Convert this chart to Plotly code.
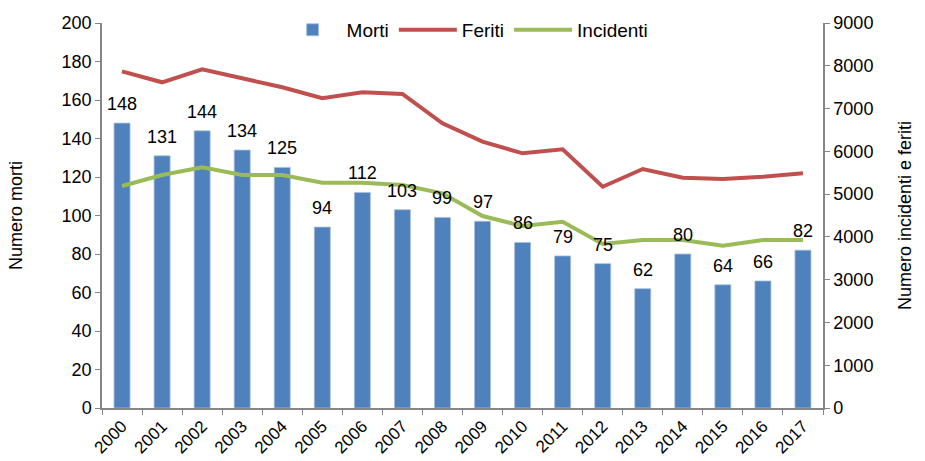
import plotly.graph_objects as go

anni = [str(y) for y in range(2000, 2018)]
morti = [148, 131, 144, 134, 125, 94, 112, 103, 99, 97, 86, 79, 75, 62, 80, 64, 66, 82]
feriti = [7870, 7614, 7918, 7707, 7497, 7240, 7380, 7340, 6655, 6226, 5953, 6047, 5173, 5587, 5384, 5353, 5407, 5486]
incidenti = [5190, 5447, 5626, 5447, 5447, 5267, 5267, 5213, 5018, 4488, 4255, 4355, 3834, 3927, 3927, 3795, 3927, 3927]

font = "Liberation Sans, Arial, sans-serif"
fig = go.Figure()
fig.add_trace(go.Bar(x=anni, y=morti, name="Morti", marker_color="#4F81BD",
                     marker_line=dict(color="#A8C0E0", width=0.8)))
fig.add_trace(go.Scatter(x=anni, y=feriti, name="Feriti", yaxis="y2", mode="lines",
                         line=dict(color="#C0504D", width=4)))
fig.add_trace(go.Scatter(x=anni, y=incidenti, name="Incidenti", yaxis="y2", mode="lines",
                         line=dict(color="#9BBB59", width=4)))

# category axis positions: annotation x given as category index
annotations = [dict(x=i, y=v, xref="x", yref="y", text=str(v), showarrow=False,
                    yanchor="middle", yshift=19, font=dict(size=18, color="black"))
               for i, v in enumerate(morti)]

axcol = "#868686"
fig.update_layout(
    width=925, height=461,
    margin=dict(l=102, r=102, t=23, b=53, autoexpand=False),
    plot_bgcolor="white", paper_bgcolor="white",
    font=dict(family=font, size=18, color="black"),
    bargap=0.6,
    showlegend=True,
    legend=dict(orientation="h", x=0.505, xanchor="center", y=0.982, yanchor="middle",
                font=dict(size=19), bgcolor="rgba(0,0,0,0)", traceorder="normal",
                itemwidth=58),
    annotations=annotations,
    xaxis=dict(type="category", range=[-0.5, len(anni) - 0.5], showline=True,
               linecolor=axcol, linewidth=1.5, automargin=False,
               ticks="outside", tickson="boundaries", ticklen=5, tickcolor=axcol,
               tickangle=-45, showgrid=False, tickfont=dict(size=17)),
    yaxis=dict(range=[0, 200], dtick=20, showline=True, linecolor=axcol, linewidth=1.5,
               ticks="outside", ticklen=5, tickcolor=axcol, showgrid=False, zeroline=False,
               automargin=False,
               title=dict(text="Numero morti", font=dict(size=18), standoff=34),
               tickfont=dict(size=18)),
    yaxis2=dict(range=[0, 9000], dtick=1000, overlaying="y", side="right", showline=True,
                linecolor=axcol, linewidth=1.5, ticks="outside", ticklen=5,
                tickcolor=axcol, showgrid=False, zeroline=False, automargin=False,
                title=dict(text="Numero incidenti e feriti", font=dict(size=18), standoff=26),
                tickfont=dict(size=18)),
)
fig.write_html("out.html", config={"displayModeBar": False},
               post_script="document.body.style.margin='0px';")
